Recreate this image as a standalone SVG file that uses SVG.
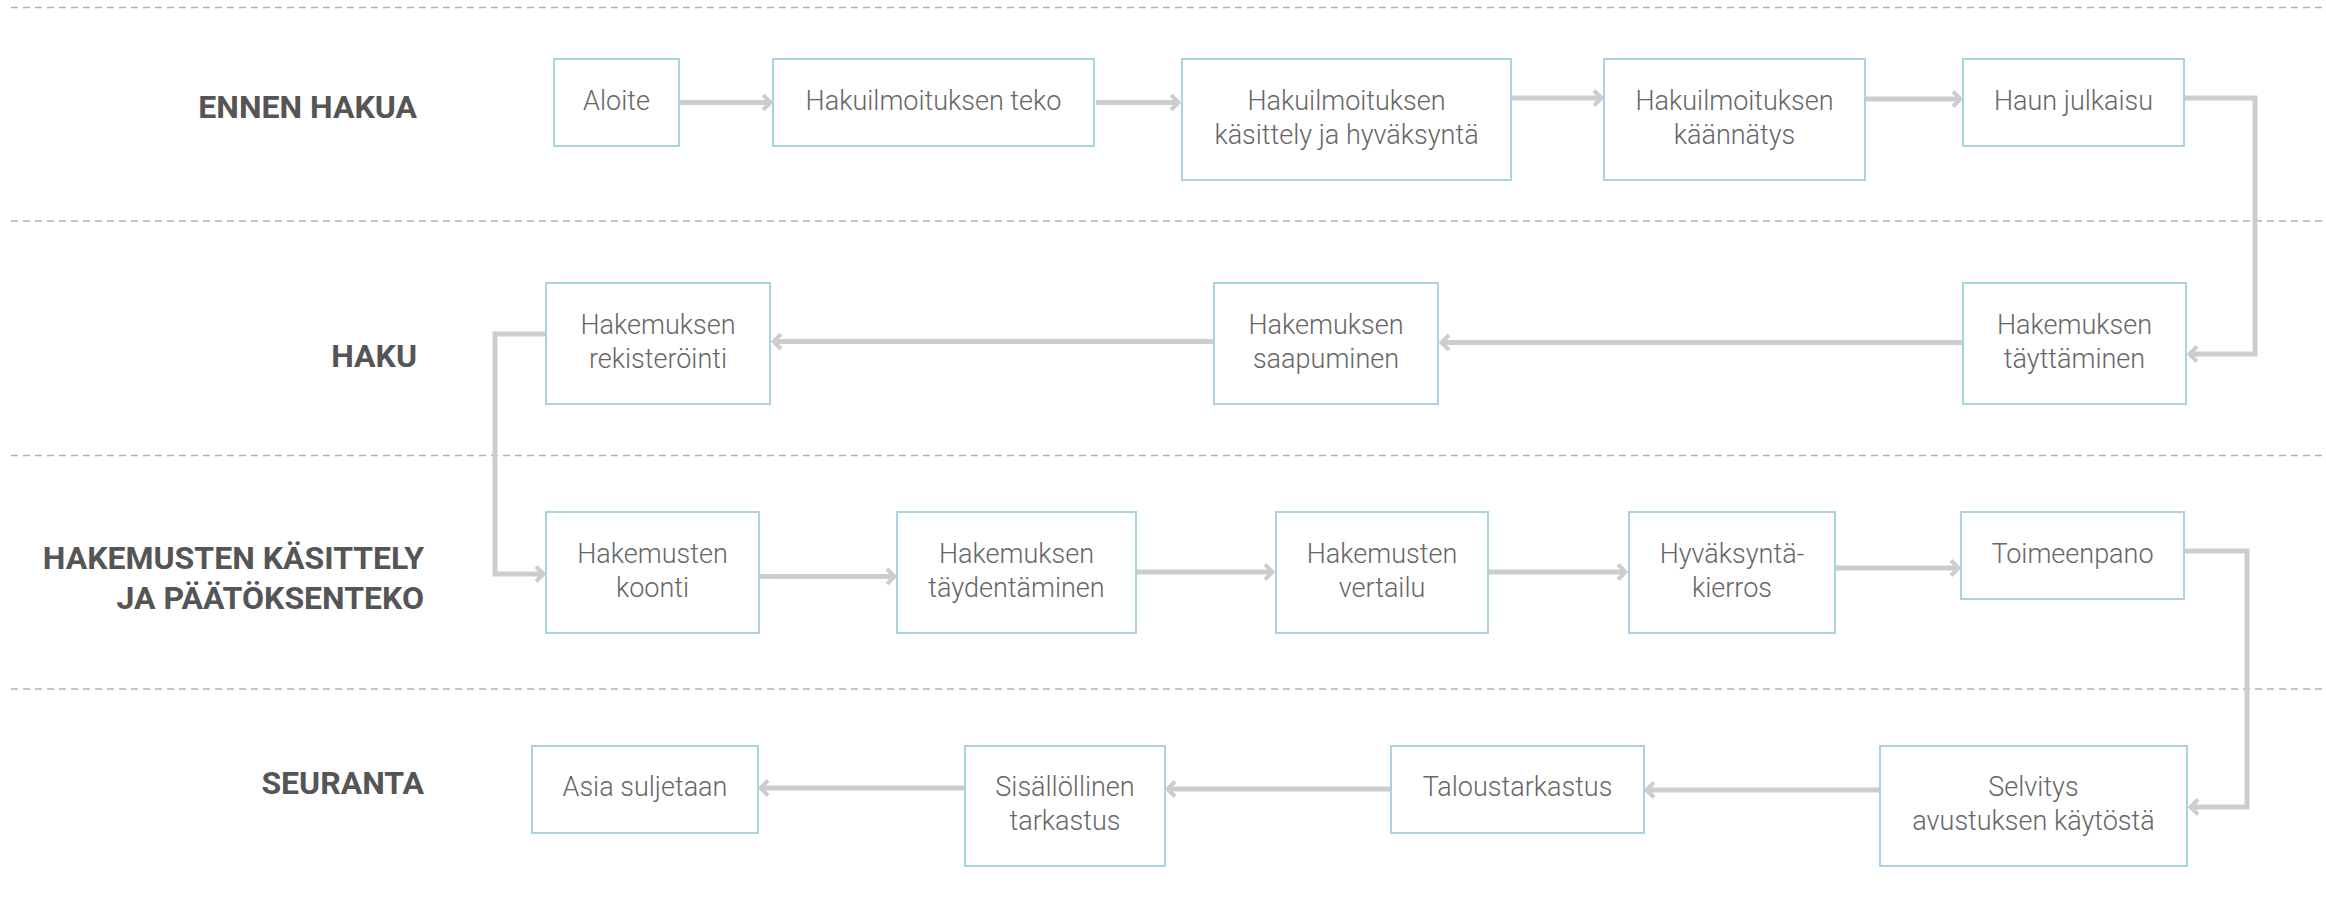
<svg xmlns="http://www.w3.org/2000/svg" width="2326" height="923" viewBox="0 0 2326 923">
<defs>
<style>
.sep{stroke:#b3b3b3;stroke-width:1.5;stroke-dasharray:7 5;fill:none}
.lane{font-family:Roboto,"Liberation Sans",sans-serif;font-weight:700;font-size:32px;fill:#555555;text-anchor:end}
.box{fill:#ffffff;stroke:#a9d4df;stroke-width:2}
.t{font-family:Roboto,"Liberation Sans",sans-serif;font-weight:300;font-size:27px;fill:#666666;text-anchor:middle}
.c{fill:none;stroke:#cdcdcd;stroke-width:5;marker-end:url(#arr)}
</style>
<marker id="arr" viewBox="0 0 16 18" refX="14" refY="9" markerWidth="16" markerHeight="18" markerUnits="userSpaceOnUse" orient="auto">
<path d="M6,1.5 L13.5,9 L6,16.5" fill="none" stroke="#cdcdcd" stroke-width="4"/>
</marker>
</defs>
<rect width="2326" height="923" fill="#ffffff"/>
<g id="separators">
<line class="sep" x1="11" y1="7.5" x2="2326" y2="7.5"/>
<line class="sep" x1="11" y1="221" x2="2326" y2="221"/>
<line class="sep" x1="11" y1="455.5" x2="2326" y2="455.5"/>
<line class="sep" x1="11" y1="689" x2="2326" y2="689"/>
</g>
<g id="lanes">
<text class="lane" x="417" y="118">ENNEN HAKUA</text>
<text class="lane" x="417" y="367">HAKU</text>
<text class="lane" x="424" y="569">HAKEMUSTEN KÄSITTELY</text>
<text class="lane" x="424" y="609">JA PÄÄTÖKSENTEKO</text>
<text class="lane" x="424" y="794">SEURANTA</text>
</g>
<g id="connectors">
<path class="c" d="M679,102.5 H771"/>
<path class="c" d="M1096,102.5 H1179"/>
<path class="c" d="M1512,98 H1602"/>
<path class="c" d="M1866,99 H1961"/>
<path class="c" d="M2185,98 H2255 V354 H2189"/>
<path class="c" d="M1962,342.5 H1441"/>
<path class="c" d="M1213,341.5 H773"/>
<path class="c" d="M546,334 H495 V574 H544"/>
<path class="c" d="M760,576.5 H895"/>
<path class="c" d="M1136,572 H1273"/>
<path class="c" d="M1489,572 H1626"/>
<path class="c" d="M1836,568 H1959"/>
<path class="c" d="M2185,551 H2247 V807 H2190"/>
<path class="c" d="M1880,790 H1646"/>
<path class="c" d="M1391,789 H1167"/>
<path class="c" d="M965,788 H760"/>
</g>
<g id="n-aloite"><rect class="box" x="554" y="59" width="125" height="87"/><text class="t" x="616.5" y="110">Aloite</text></g>
<g id="n-teko"><rect class="box" x="773" y="59" width="321" height="87"/><text class="t" x="933.5" y="110">Hakuilmoituksen teko</text></g>
<g id="n-kasittely"><rect class="box" x="1182" y="59" width="329" height="121"/><text class="t" x="1346.5" y="110">Hakuilmoituksen</text><text class="t" x="1346.5" y="144">käsittely ja hyväksyntä</text></g>
<g id="n-kaannatys"><rect class="box" x="1604" y="59" width="261" height="121"/><text class="t" x="1734.5" y="110">Hakuilmoituksen</text><text class="t" x="1734.5" y="144">käännätys</text></g>
<g id="n-julkaisu"><rect class="box" x="1963" y="59" width="221" height="87"/><text class="t" x="2073.5" y="110">Haun julkaisu</text></g>
<g id="n-taytt"><rect class="box" x="1963" y="283" width="223" height="121"/><text class="t" x="2074.5" y="334">Hakemuksen</text><text class="t" x="2074.5" y="368">täyttäminen</text></g>
<g id="n-saap"><rect class="box" x="1214" y="283" width="224" height="121"/><text class="t" x="1326" y="334">Hakemuksen</text><text class="t" x="1326" y="368">saapuminen</text></g>
<g id="n-rek"><rect class="box" x="546" y="283" width="224" height="121"/><text class="t" x="658" y="334">Hakemuksen</text><text class="t" x="658" y="368">rekisteröinti</text></g>
<g id="n-koonti"><rect class="box" x="546" y="512" width="213" height="121"/><text class="t" x="652.5" y="563">Hakemusten</text><text class="t" x="652.5" y="597">koonti</text></g>
<g id="n-tayd"><rect class="box" x="897" y="512" width="239" height="121"/><text class="t" x="1016.5" y="563">Hakemuksen</text><text class="t" x="1016.5" y="597">täydentäminen</text></g>
<g id="n-vert"><rect class="box" x="1276" y="512" width="212" height="121"/><text class="t" x="1382" y="563">Hakemusten</text><text class="t" x="1382" y="597">vertailu</text></g>
<g id="n-hyv"><rect class="box" x="1629" y="512" width="206" height="121"/><text class="t" x="1732" y="563">Hyväksyntä-</text><text class="t" x="1732" y="597">kierros</text></g>
<g id="n-toim"><rect class="box" x="1961" y="512" width="223" height="87"/><text class="t" x="2072.5" y="563">Toimeenpano</text></g>
<g id="n-selv"><rect class="box" x="1880" y="746" width="307" height="120"/><text class="t" x="2033.5" y="796">Selvitys</text><text class="t" x="2033.5" y="830">avustuksen käytöstä</text></g>
<g id="n-talous"><rect class="box" x="1391" y="746" width="253" height="87"/><text class="t" x="1517.5" y="796">Taloustarkastus</text></g>
<g id="n-sis"><rect class="box" x="965" y="746" width="200" height="120"/><text class="t" x="1065" y="796">Sisällöllinen</text><text class="t" x="1065" y="830">tarkastus</text></g>
<g id="n-asia"><rect class="box" x="532" y="746" width="226" height="87"/><text class="t" x="645" y="796">Asia suljetaan</text></g>
</svg>
